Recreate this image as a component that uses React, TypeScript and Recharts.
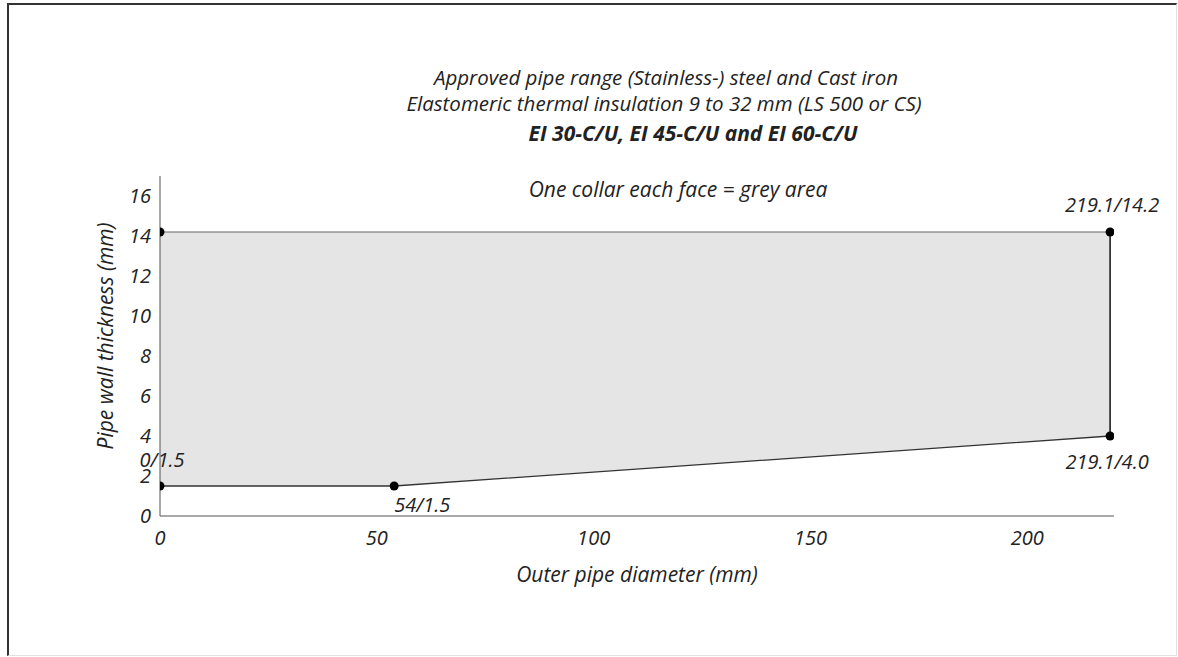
import React from "react";
import {
  ComposedChart,
  Area,
  Line,
  Scatter,
  XAxis,
  YAxis,
  LabelList,
} from "recharts";

// ---- data ----
const areaX = [0, 54, 219.1];
const areaLow = [1.5, 1.5, 4.0];
const areaHigh = [14.2, 14.2, 14.2];

const pointX = [0, 0, 54, 219.1, 219.1];
const pointY = [14.2, 1.5, 1.5, 14.2, 4.0];
const pointLabels = ["", "0/1.5", "54/1.5", "219.1/14.2", "219.1/4.0"];

const xTicks = [0, 50, 100, 150, 200];
const yTicks = [0, 2, 4, 6, 8, 10, 12, 14, 16];

const titleLines = [
  "Approved pipe range (Stainless-) steel and Cast iron",
  "Elastomeric thermal insulation 9 to 32 mm (LS 500 or CS)",
  "EI 30-C/U, EI 45-C/U and EI 60-C/U",
  "One collar each face = grey area",
];
const xLabel = "Outer pipe diameter (mm)";
const yLabel = "Pipe wall thickness (mm)";

// ---- derived tables ----
const areaData = areaX.map((x, i) => ({ x, range: [areaLow[i], areaHigh[i]] }));
const topEdge = [
  { x: areaX[0], y: areaHigh[0] },
  { x: areaX[2], y: areaHigh[2] },
];
const bottomEdge = areaX.map((x, i) => ({ x, y: areaLow[i] }));
const rightEdge = [
  { x: areaX[2], y: areaLow[2] },
  { x: areaX[2], y: areaHigh[2] },
];
const points = pointX.map((x, i) => ({ x, y: pointY[i], label: pointLabels[i] }));

const FONT = "'Open Sans', 'Noto Sans', sans-serif";
const TEXT = "#222";

// label offsets relative to the point (styling, not data)
const labelOffsets: Record<number, { dx: number; dy: number; anchor: string }> = {
  1: { dx: 2, dy: -27, anchor: "middle" },
  2: { dx: 0, dy: 18, anchor: "start" },
  3: { dx: 2, dy: -28, anchor: "middle" },
  4: { dx: -3, dy: 25, anchor: "middle" },
};

const PointLabel = (props: any) => {
  const { x, y, width, height, value, index } = props;
  const o = labelOffsets[index];
  if (!o || !value) return null;
  const cx = x + (width || 0) / 2;
  const cy = y + (height || 0) / 2;
  return (
    <text
      x={cx + o.dx}
      y={cy + o.dy}
      textAnchor={o.anchor}
      dominantBaseline="central"
      fontFamily={FONT}
      fontStyle="italic"
      fontSize={20}
      fill={TEXT}
    >
      {value}
    </text>
  );
};

export default function App() {
  return (
    <div
      style={{
        position: "absolute",
        left: 0,
        top: 0,
        width: 1178,
        height: 657,
        background: "#fff",
      }}
    >
      <div
        style={{
          position: "absolute",
          left: 7,
          top: 3,
          width: 1170,
          height: 653,
          borderTop: "2px solid #333",
          borderLeft: "2px solid #333",
          borderRight: "1px solid #e2e2e2",
          borderBottom: "1px solid #e2e2e2",
          boxSizing: "border-box",
        }}
      />
      <div style={{ position: "absolute", left: 0, top: 0 }}>
        <ComposedChart
          width={1178}
          height={657}
          margin={{ top: 176, right: 64, bottom: 111, left: 100 }}
        >
          <XAxis
            type="number"
            dataKey="x"
            domain={[0, 220]}
            ticks={xTicks}
            allowDataOverflow
            axisLine={{ stroke: "#555", strokeWidth: 1 }}
            tickLine={false}
            tickMargin={9}
            height={30}
            tick={{ fontFamily: FONT, fontStyle: "italic", fontSize: 20, fill: TEXT }}
          />
          <YAxis
            type="number"
            domain={[0, 17]}
            ticks={yTicks}
            allowDataOverflow
            width={60}
            axisLine={{ stroke: "#555", strokeWidth: 1 }}
            tickLine={false}
            tickMargin={3}
            tick={{ fontFamily: FONT, fontStyle: "italic", fontSize: 20, fill: TEXT }}
          />
          <Area
            data={areaData}
            dataKey="range"
            type="linear"
            fill="#e5e5e5"
            fillOpacity={1}
            stroke="none"
            isAnimationActive={false}
            activeDot={false}
          />
          <Line
            data={topEdge}
            dataKey="y"
            type="linear"
            stroke="#666"
            strokeWidth={1.2}
            dot={false}
            activeDot={false}
            isAnimationActive={false}
          />
          <Line
            data={bottomEdge}
            dataKey="y"
            type="linear"
            stroke="#333"
            strokeWidth={1.3}
            dot={false}
            activeDot={false}
            isAnimationActive={false}
          />
          <Line
            data={rightEdge}
            dataKey="y"
            type="linear"
            stroke="#111"
            strokeWidth={1.5}
            dot={false}
            activeDot={false}
            isAnimationActive={false}
          />
          <Scatter
            data={points}
            dataKey="y"
            fill="#000"
            shape={(p: any) => <circle cx={p.cx} cy={p.cy} r={4.5} fill="#000" />}
            isAnimationActive={false}
          >
            <LabelList dataKey="label" content={PointLabel} />
          </Scatter>
        </ComposedChart>
      </div>
      <svg
        width={1178}
        height={657}
        style={{ position: "absolute", left: 0, top: 0, pointerEvents: "none" }}
      >
        <g fontFamily={FONT} fontStyle="italic" fill={TEXT} textAnchor="middle">
          <text x={666} y={85} fontSize={20.5}>{titleLines[0]}</text>
          <text x={664} y={111} fontSize={20.5}>{titleLines[1]}</text>
          <text x={693} y={141} fontSize={21} fontWeight="bold">{titleLines[2]}</text>
          <text x={678} y={197} fontSize={21}>{titleLines[3]}</text>
          <text x={637} y={582} fontSize={21}>{xLabel}</text>
          <text
            x={0}
            y={0}
            fontSize={21}
            transform="translate(113, 336) rotate(-90)"
          >
            {yLabel}
          </text>
        </g>
      </svg>
    </div>
  );
}
